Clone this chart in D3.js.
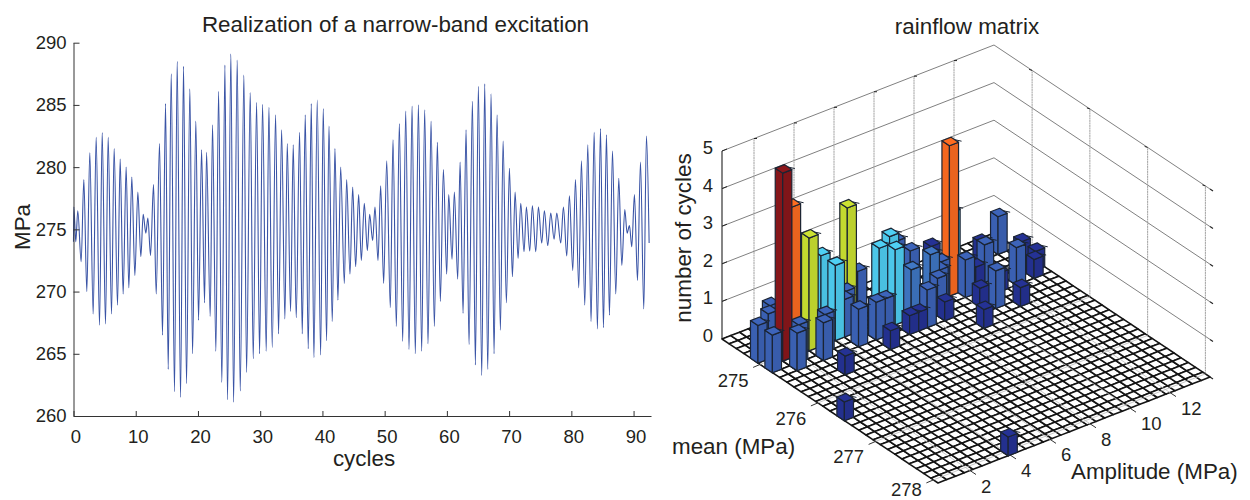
<!DOCTYPE html>
<html>
<head>
<meta charset="utf-8">
<script src="https://cdn.jsdelivr.net/npm/d3@7"></script>
<style>
  html, body { margin: 0; padding: 0; background: #fff; }
  svg { display: block; }
  text { font-family: "Liberation Sans", Arial, sans-serif; fill: #231f20; }
</style>
</head>
<body>
<div id="chart"></div>
<script>
// turning points of the stress history
var peakCycles = [0.05, 0.69, 1.66, 2.62, 3.64, 4.61, 5.57, 6.53, 7.50, 8.46, 9.37, 10.34, 11.20, 11.95, 12.86, 13.82, 14.79, 15.70, 16.66, 17.68, 18.70, 19.66, 20.58, 21.38, 22.34, 23.31, 24.33, 25.29, 26.31, 27.38, 28.40, 29.42, 30.38, 31.40, 32.47, 33.44, 34.35, 35.31, 36.33, 37.24, 38.21, 39.17, 40.13, 41.05, 42.01, 42.93, 43.89, 44.86, 45.82, 46.73, 47.59, 48.45, 49.36, 50.33, 51.34, 52.36, 53.38, 54.40, 55.42, 56.43, 57.45, 58.47, 59.44, 60.29, 61.20, 62.12, 63.08, 64.10, 65.06, 66.08, 67.10, 68.06, 69.03, 70.05, 70.96, 71.87, 72.78, 73.74, 74.71, 75.67, 76.69, 77.66, 78.73, 79.69, 80.66, 81.62, 82.64, 83.66, 84.68, 85.64, 86.61, 87.62, 88.59, 89.34, 90.14, 91.11, 92.07];
var peakMPa = [276.8, 276.5, 279, 281.16, 282.4, 282.77, 282.4, 281.5, 280.65, 280, 279.2, 278, 276.2, 275.9, 278.6, 281.9, 285.1, 287.5, 288.5, 288.1, 286.3, 283.7, 281.4, 281.2, 283.4, 286.1, 288.2, 289.1, 288.6, 287.4, 286, 285.2, 285.05, 284.8, 284.2, 283, 281.9, 281.8, 282.8, 284.2, 285.1, 285.4, 284.7, 283.3, 281.5, 280, 279, 278.4, 277.8, 277.1, 276.2, 276.8, 278.5, 280.5, 282.2, 283.5, 284.5, 284.9, 285, 284.6, 283.7, 282, 279.8, 277.8, 278, 280.4, 283, 285.3, 286.5, 286.7, 285.9, 284.2, 282.1, 279.9, 278, 277.1, 276.8, 276.9, 276.8, 276.5, 276.3, 276.3, 276.8, 277.7, 279, 280.5, 281.8, 282.8, 283.1, 282.6, 281.3, 279.1, 276.6, 275.3, 277.8, 280.4, 282.5];
var troughCycles = [0, 0.37, 1.23, 2.14, 3.16, 4.18, 5.14, 6.11, 7.07, 7.98, 8.89, 9.86, 10.82, 11.62, 12.38, 13.29, 14.30, 15.22, 16.23, 17.20, 18.16, 19.13, 20.09, 21.06, 21.97, 22.88, 23.84, 24.75, 25.72, 26.79, 27.81, 28.88, 29.90, 30.97, 31.94, 32.95, 33.97, 34.88, 35.79, 36.76, 37.72, 38.63, 39.71, 40.67, 41.58, 42.49, 43.52, 44.43, 45.34, 46.25, 47.22, 48.07, 48.93, 49.84, 50.91, 51.88, 52.90, 53.92, 54.93, 55.95, 56.97, 57.99, 58.95, 59.97, 60.83, 61.74, 62.60, 63.56, 64.58, 65.60, 66.56, 67.58, 68.60, 69.56, 70.53, 71.44, 72.40, 73.31, 74.28, 75.24, 76.21, 77.23, 78.30, 79.26, 80.23, 81.19, 82.16, 83.17, 84.19, 85.16, 86.12, 87.14, 88.11, 88.96, 89.71, 90.63, 91.64, 92.50];
var troughMPa = [274, 274, 272.4, 270, 268.2, 267.3, 267.4, 268.2, 268.9, 269.8, 270.3, 271.3, 272.8, 274.7, 272.9, 269.8, 266.5, 263.75, 261.95, 261.5, 262.6, 265, 267.7, 269.1, 268, 265.2, 262.7, 261.3, 261.1, 262, 263.5, 264.6, 265, 265.2, 265.5, 266.6, 267.8, 268.4, 267.9, 266.6, 265.4, 264.7, 264.9, 266.05, 267.6, 269.3, 270.66, 271.4, 272, 272.5, 273.3, 274.1, 272.5, 270.66, 268.7, 267.2, 266, 265.35, 265, 265.2, 265.8, 267.2, 269.2, 271.4, 272.6, 271, 268.25, 265.75, 264.1, 263.26, 263.75, 265, 266.9, 269.1, 271.2, 272.67, 273.2, 273.26, 273.2, 273.9, 273.7, 274.2, 273.9, 272.86, 271.7, 270.3, 268.9, 267.6, 267, 267.1, 268.1, 269.8, 272.1, 274.7, 273.6, 270.9, 268.6, 273.9];
var xTicks = [0, 10, 20, 30, 40, 50, 60, 70, 80, 90];
var yTicks = [260, 265, 270, 275, 280, 285, 290];

// rainflow matrix, filled bins only: mean bin, amplitude bin, number of cycles
var barMeanBin = [2, 4, 6, 7, 6, 5, 5, 5, 5, 3, 7, 6, 4, 2, 3, 10, 16, 29, 3, 4, 5, 7, 7, 7, 2, 4, 5, 6, 9, 7, 6, 8, 8, 8, 7, 6, 0, 2, 0, 5, 4, 6, 5, 8, 2, 5, 2, 9, 7, 4, 7, 8, 11, 10, 6, 7, 5];
var barAmpBin = [3, 0, 0, 2, 3, 2, 3, 5, 8, 8, 5, 6, 5, 5, 2, 5, 0, 8, 11, 10, 9, 9, 12, 11, 13, 15, 13, 14, 11, 15, 18, 16, 15, 14, 18, 19, 23, 19, 19, 21, 22, 22, 20, 18, 29, 25, 27, 23, 27, 30, 25, 22, 20, 25, 30, 29, 24];
var barCount = [1, 1, 1, 1, 1, 5, 4, 3, 2, 2, 1, 1, 1, 1, 1, 0.5, 0.5, 0.5, 3, 1, 1, 1, 1, 1, 1, 2, 2, 2, 0.5, 1.5, 1.5, 1, 0.5, 0.5, 1, 1, 0.5, 1, 1, 4, 2, 1, 1, 0.5, 1, 1, 0.5, 1, 1, 0.5, 0.5, 0.5, 0.5, 0.5, 0.5, 0.5, 0.5];
var meanTicks = [275, 276, 277, 278];
var ampTicks = [2, 4, 6, 8, 10, 12];
var countTicks = [0, 1, 2, 3, 4, 5];
var nMeanBins = 30, nAmpBins = 31;

var svg = d3.select("#chart").append("svg").attr("width", 1250).attr("height", 500);

drawHistory();
drawMatrix();

function drawHistory() {
    var x = d3.scaleLinear().domain([0, 92.8]).range([73.5, 651]);
    var y = d3.scaleLinear().domain([260, 290]).range([416, 42.7]);

    var points = peakCycles.map(function(c, i) { return {c: c, v: peakMPa[i]} })
        .concat(troughCycles.map(function(c, i) { return {c: c, v: troughMPa[i]} }))
        .sort(function(a, b) { return a.c - b.c });

    var line = d3.line()
        .x(function(d) { return x(d.c) })
        .y(function(d) { return y(d.v) })
        .curve(d3.curveMonotoneX);

    svg.append("path")
        .datum(points)
        .attr("d", line)
        .attr("fill", "none")
        .attr("stroke", "#3a54a6")
        .attr("stroke-width", 1.1);

    var xAxis = svg.append("g").attr("transform", "translate(0,416)")
        .call(d3.axisBottom(x).tickValues(xTicks).tickSizeInner(-5).tickSizeOuter(0).tickPadding(14));
    var yAxis = svg.append("g").attr("transform", "translate(73.5,0)")
        .call(d3.axisLeft(y).tickValues(yTicks).tickSizeInner(-6).tickSizeOuter(0).tickPadding(7));

    [xAxis, yAxis].forEach(function(a) {
        a.selectAll("path, line").attr("stroke", "#333").attr("stroke-width", 1);
        a.selectAll("text").style("font-size", "18.5px").attr("fill", "#231f20");
    });
    xAxis.selectAll("text").attr("dx", 2);

    svg.append("text").attr("x", 395.5).attr("y", 32).attr("text-anchor", "middle")
        .style("font-size", "22.4px").text("Realization of a narrow-band excitation");
    svg.append("text").attr("x", 364).attr("y", 466).attr("text-anchor", "middle")
        .style("font-size", "22.4px").text("cycles");
    svg.append("text").attr("transform", "translate(30,227) rotate(-90)").attr("text-anchor", "middle")
        .style("font-size", "22.4px").text("MPa");
}

function drawMatrix() {
    // fixed view: each data axis becomes a screen displacement
    var meanX = d3.scaleLinear().domain([0, nMeanBins]).range([0, 216]);
    var meanY = d3.scaleLinear().domain([0, nMeanBins]).range([0, 144]);
    var ampX = d3.scaleLinear().domain([0, nAmpBins]).range([0, 272]);
    var ampY = d3.scaleLinear().domain([0, nAmpBins]).range([0, -106]);
    var zY = d3.scaleLinear().domain([0, 5]).range([0, -188]);
    var meanBin = d3.scaleLinear().domain([274.34, 278.08]).range([0, nMeanBins]);
    var ampBin = d3.scaleLinear().domain([0.4, 14]).range([0, nAmpBins]);

    var color = d3.scaleLinear()
        .domain([0.5, 1, 1.5, 2, 3, 4, 5])
        .range(["#23308f", "#3a60b2", "#3d73bd", "#4cc7ea", "#c3d92f", "#f3671f", "#86161a"]);

    function pt(i, j, z) {
        return [722 + meanX(i) + ampX(j), 339 + meanY(i) + ampY(j) + zY(z || 0)];
    }
    function seg(g, a, b, stroke, width, dash) {
        g.append("line")
            .attr("x1", a[0]).attr("y1", a[1]).attr("x2", b[0]).attr("y2", b[1])
            .attr("stroke", stroke).attr("stroke-width", width).attr("stroke-dasharray", dash || null);
    }
    function poly(g, pts, fill, stroke, width) {
        return g.append("polygon")
            .attr("points", pts.map(function(p) { return p.join(",") }).join(" "))
            .attr("fill", fill).attr("stroke", stroke).attr("stroke-width", width)
            .attr("stroke-linejoin", "round");
    }

    var walls = svg.append("g");
    countTicks.forEach(function(c) {
        seg(walls, pt(0, 0, c), pt(0, nAmpBins, c), "#808080", 1);
        seg(walls, pt(0, nAmpBins, c), pt(nMeanBins, nAmpBins, c), "#808080", 1);
        seg(walls, pt(nMeanBins, nAmpBins, c), [pt(nMeanBins, nAmpBins, c)[0] + 3, pt(nMeanBins, nAmpBins, c)[1] + 2], "#222", 1.2);
        seg(walls, pt(0, 0, c), [pt(0, 0, c)[0] + 5, pt(0, 0, c)[1] - 2], "#222", 1);
    });
    ampTicks.forEach(function(a) {
        seg(walls, pt(0, ampBin(a), 0), pt(0, ampBin(a), 5), "#a0a0a0", 1, "2 0.5");
        seg(walls, pt(0, ampBin(a), 5), [pt(0, ampBin(a), 5)[0] + 3, pt(0, ampBin(a), 5)[1]], "#222", 1);
    });
    meanTicks.forEach(function(m) {
        seg(walls, pt(meanBin(m), nAmpBins, 0), pt(meanBin(m), nAmpBins, 5), "#a0a0a0", 1, "2 0.5");
        seg(walls, pt(meanBin(m), nAmpBins, 5), [pt(meanBin(m), nAmpBins, 5)[0] - 3, pt(meanBin(m), nAmpBins, 5)[1] - 1], "#222", 1);
    });
    seg(walls, pt(0, 0, 0), pt(0, 0, 5), "#333", 1.2);

    var floor = svg.append("g");
    d3.range(nMeanBins).forEach(function(i) {
        d3.range(nAmpBins).forEach(function(j) {
            poly(floor, [pt(i, j), pt(i + 1, j), pt(i + 1, j + 1), pt(i, j + 1)], "#fff", "#141414", 1.6);
        });
    });
    // grey grid marks showing through the floor
    ampTicks.forEach(function(a) {
        seg(floor, pt(0, ampBin(a)), pt(nMeanBins, ampBin(a)), "#bbb", 0.8);
        seg(floor, pt(nMeanBins, ampBin(a)), [pt(nMeanBins, ampBin(a))[0] + 6, pt(nMeanBins, ampBin(a))[1] + 4], "#333", 1);
    });
    meanTicks.forEach(function(m) {
        seg(floor, pt(meanBin(m), 0), pt(meanBin(m), nAmpBins), "#bbb", 0.8);
        seg(floor, pt(meanBin(m), 0), [pt(meanBin(m), 0)[0] - 7, pt(meanBin(m), 0)[1] + 3], "#333", 1);
    });

    // back to front so nearer bars cover the ones behind
    var order = d3.range(barCount.length).sort(function(a, b) {
        return (barMeanBin[a] - barAmpBin[a]) - (barMeanBin[b] - barAmpBin[b]);
    });
    var bars = svg.append("g");
    var pad = 0.02;
    order.forEach(function(k) {
        var i0 = barMeanBin[k] - pad, i1 = barMeanBin[k] + 1 + pad;
        var j0 = barAmpBin[k] - pad, j1 = barAmpBin[k] + 1 + pad;
        var h = barCount[k];
        var c = d3.color(color(h));
        var g = bars.append("g");
        poly(g, [pt(i0, j0, 0), pt(i1, j0, 0), pt(i1, j0, h), pt(i0, j0, h)], c.formatHex(), "#1b2433", 1.2);
        poly(g, [pt(i1, j0, 0), pt(i1, j1, 0), pt(i1, j1, h), pt(i1, j0, h)], c.darker(0.12).formatHex(), "#1b2433", 1.2);
        poly(g, [pt(i0, j0, h), pt(i1, j0, h), pt(i1, j1, h), pt(i0, j1, h)], c.brighter(0.12).formatHex(), "#1b2433", 1.2);
        seg(g, pt((i0 + i1) / 2, j1, h), [pt(i1, j1, h)[0] + 3, pt(i1, j1, h)[1] - 1], "#1b2433", 1);
    });

    var labels = svg.append("g").style("font-size", "18.5px");
    countTicks.forEach(function(c) {
        var p = pt(0, 0, c);
        labels.append("text").attr("x", p[0] - 14).attr("y", p[1] + 3).attr("text-anchor", "middle").text(c);
    });
    meanTicks.forEach(function(m) {
        var p = pt(meanBin(m), 0);
        labels.append("text").attr("x", p[0] - 27)
            .attr("y", Math.min(p[1] + 23 - (m - 275) * 0.8, 495.5))
            .attr("text-anchor", "middle").text(m);
    });
    ampTicks.forEach(function(a) {
        var p = pt(nMeanBins, ampBin(a));
        labels.append("text").attr("x", p[0] + 11).attr("y", p[1] + 22).text(a);
    });

    svg.append("text").attr("x", 967).attr("y", 34).attr("text-anchor", "middle")
        .style("font-size", "22.4px").text("rainflow matrix");
    svg.append("text").attr("transform", "translate(691,238) rotate(-90)").attr("text-anchor", "middle")
        .style("font-size", "22.4px").text("number of cycles");
    svg.append("text").attr("x", 672).attr("y", 454)
        .style("font-size", "22.4px").text("mean (MPa)");
    svg.append("text").attr("x", 1071).attr("y", 479)
        .style("font-size", "22.4px").text("Amplitude (MPa)");
}
</script>
</body>
</html>
